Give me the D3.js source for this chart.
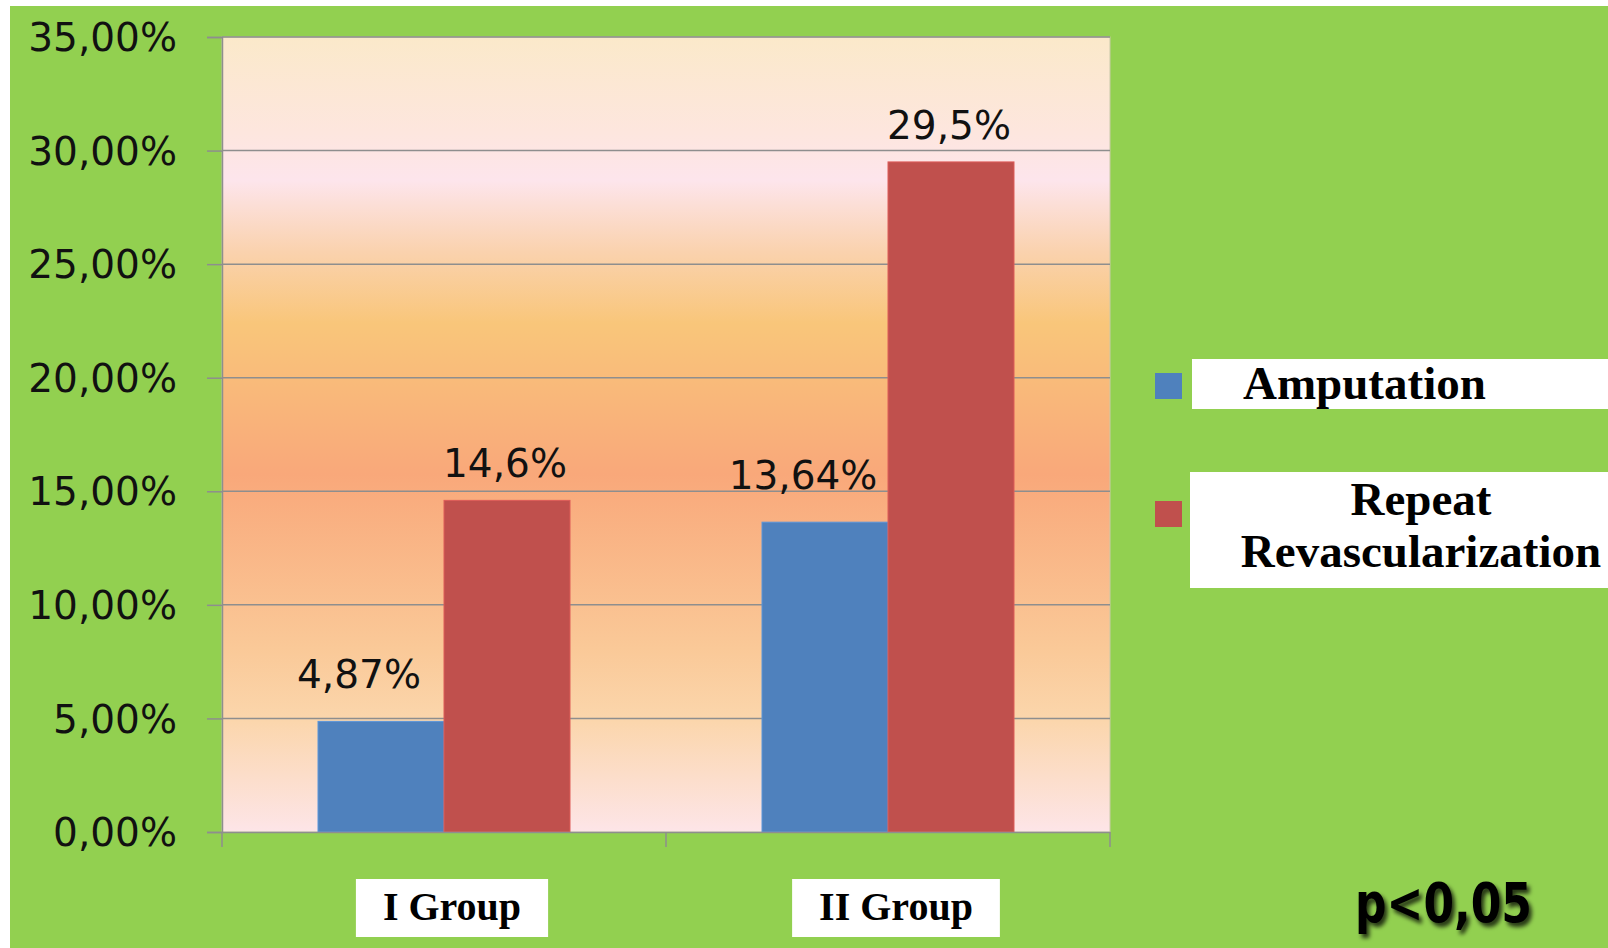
<!DOCTYPE html>
<html>
<head>
    <meta charset="utf-8" />
    <title>Amputation / Repeat Revascularization</title>
    <script src="https://cdn.jsdelivr.net/npm/d3@7/dist/d3.min.js" type="text/javascript"></script>
    <style>
        body { margin: 0; background: #ffffff; }
        svg { display: block; }
        .tick text { font-family: "DejaVu Sans", Verdana, sans-serif; }
    </style>
</head>
<body>
<div id="chart"></div>
<script type="text/javascript">
// data (percent)
var groups = ['I Group', 'II Group'];
var seriesNames = ['Amputation', 'Repeat Revascularization'];
var amputation = [4.87, 13.64];
var repeatRevasc = [14.6, 29.5];
var yTicks = [0, 5, 10, 15, 20, 25, 30, 35];
var pNote = 'p<0,05';

var width = 1608, height = 948;
var plot = { left: 222, right: 1110, top: 37, bottom: 832 };
var colors = ['#4F81BD', '#C0504D'];
// where Excel put the value labels relative to the bar top
var labelShift = [{ dx: -22, dy: -33 }, { dx: -2, dy: -23 }];

var svg = d3.select('#chart').append('svg')
    .attr('width', width)
    .attr('height', height);

var defs = svg.append('defs');
var grad = defs.append('linearGradient')
    .attr('id', 'plotBg')
    .attr('x1', 0).attr('y1', 0).attr('x2', 0).attr('y2', 1);
[[0, '#FBE9CA'], [0.12, '#FDE6DE'], [0.18, '#FDE5EC'], [0.27, '#FAD2AE'],
 [0.36, '#F9C67A'], [0.55, '#F9A87A'], [0.77, '#FAC998'], [0.86, '#FBD6AC'],
 [1, '#FDE5E8']].forEach(function (s) {
    grad.append('stop').attr('offset', s[0]).attr('stop-color', s[1]);
});
var shadow = defs.append('filter').attr('id', 'pShadow')
    .attr('x', '-20%').attr('y', '-20%').attr('width', '140%').attr('height', '150%');
shadow.append('feDropShadow')
    .attr('dx', 3).attr('dy', 4).attr('stdDeviation', 2)
    .attr('flood-color', '#000').attr('flood-opacity', 0.75);

// green slide background
svg.append('rect')
    .attr('x', 10).attr('y', 6)
    .attr('width', width - 10).attr('height', height - 6)
    .attr('fill', '#92D050');

var y = d3.scaleLinear().domain([0, 35]).range([plot.bottom, plot.top]);
var x0 = d3.scaleBand().domain(groups).range([plot.left, plot.right]).padding(0);
var x1 = d3.scaleBand().domain(seriesNames).range([-126, 126]).padding(0);

svg.append('rect')
    .attr('x', plot.left).attr('y', plot.top)
    .attr('width', plot.right - plot.left).attr('height', plot.bottom - plot.top)
    .attr('fill', 'url(#plotBg)')
    .attr('stroke', '#C9C9A8').attr('stroke-width', 1);

function fmtTick(v) { return d3.format('.2f')(v).replace('.', ',') + '%'; }
function fmtLabel(v) { return String(v).replace('.', ',') + '%'; }

// gridlines
svg.append('g').selectAll('line').data(yTicks.slice(1)).enter().append('line')
    .attr('x1', plot.left).attr('x2', plot.right)
    .attr('y1', function (d) { return y(d); })
    .attr('y2', function (d) { return y(d); })
    .attr('stroke', '#8E8E8E').attr('stroke-width', 1.5);

// y axis
var yAxis = svg.append('g')
    .attr('transform', 'translate(' + plot.left + ',0)')
    .call(d3.axisLeft(y).tickValues(yTicks).tickFormat(fmtTick).tickSize(15).tickPadding(30));
yAxis.select('.domain').attr('stroke', '#8E8E8E').attr('stroke-width', 1.5);
yAxis.selectAll('.tick line').attr('stroke', '#8E8E8E').attr('stroke-width', 1.5);
yAxis.selectAll('.tick text')
    .attr('font-size', 39).attr('fill', '#111').attr('dy', '0.35em');

// bars
var rows = groups.map(function (g, i) {
    return { group: g, values: [amputation[i], repeatRevasc[i]] };
});
var gBars = svg.append('g').selectAll('g').data(rows).enter().append('g')
    .attr('transform', function (d) { return 'translate(' + (x0(d.group) + x0.bandwidth() / 2) + ',0)'; });

gBars.selectAll('rect').data(function (d) {
    return d.values.map(function (v, k) { return { k: k, v: v }; });
}).enter().append('rect')
    .attr('x', function (d) { return x1(seriesNames[d.k]); })
    .attr('width', x1.bandwidth())
    .attr('y', function (d) { return y(d.v); })
    .attr('height', function (d) { return y(0) - y(d.v); })
    .attr('fill', function (d) { return colors[d.k]; })
    .attr('stroke', function (d) { return d3.color(colors[d.k]).brighter(0.4); })
    .attr('stroke-width', 1);

gBars.selectAll('text').data(function (d) {
    return d.values.map(function (v, k) { return { k: k, v: v }; });
}).enter().append('text')
    .attr('x', function (d) { return x1(seriesNames[d.k]) + x1.bandwidth() / 2 + labelShift[d.k].dx; })
    .attr('y', function (d) { return y(d.v) + labelShift[d.k].dy; })
    .attr('text-anchor', 'middle')
    .attr('font-family', '"DejaVu Sans", Verdana, sans-serif')
    .attr('font-size', 39)
    .attr('fill', '#111')
    .text(function (d) { return fmtLabel(d.v); });

// x axis line + ticks
var xAxis = svg.append('g')
    .attr('transform', 'translate(0,' + plot.bottom + ')')
    .call(d3.axisBottom(x0).tickSize(0).tickFormat(''));
xAxis.select('.domain').attr('stroke', '#8E8E8E').attr('stroke-width', 1.5);
var xEdges = [plot.left].concat(groups.map(function (g) { return x0(g) + x0.bandwidth(); }));
xAxis.selectAll('.edge').data(xEdges).enter().append('line')
    .attr('x1', function (d) { return d; }).attr('x2', function (d) { return d; })
    .attr('y1', 0).attr('y2', 15)
    .attr('stroke', '#8E8E8E').attr('stroke-width', 1.5);

// category labels in white boxes
var cat = svg.append('g').selectAll('g').data(groups).enter().append('g')
    .attr('transform', function (d) { return 'translate(' + (x0(d) + x0.bandwidth() / 2 + 8) + ',0)'; });
cat.append('rect').attr('fill', '#fff');
cat.append('text')
    .attr('x', 0).attr('y', 920)
    .attr('text-anchor', 'middle')
    .attr('font-family', '"Liberation Serif", "Times New Roman", serif')
    .attr('font-weight', 'bold')
    .attr('font-size', 40)
    .attr('fill', '#000')
    .text(function (d) { return d; });
cat.each(function () {
    var g = d3.select(this);
    var bb = g.select('text').node().getBBox();
    g.select('rect')
        .attr('x', -bb.width / 2 - 27).attr('width', bb.width + 54)
        .attr('y', 879).attr('height', 58);
});

// legend
var legend = svg.append('g');
legend.append('rect').attr('x', 1192).attr('y', 359).attr('width', 460).attr('height', 50).attr('fill', '#fff');
legend.append('rect').attr('x', 1190).attr('y', 472).attr('width', 462).attr('height', 116).attr('fill', '#fff');
legend.append('rect').attr('x', 1155).attr('y', 373).attr('width', 27).attr('height', 26).attr('fill', colors[0]);
legend.append('rect').attr('x', 1155).attr('y', 501).attr('width', 27).attr('height', 26).attr('fill', colors[1]);
var legFont = '"Liberation Serif", "Times New Roman", serif';
legend.append('text')
    .attr('x', 1243).attr('y', 399)
    .attr('font-family', legFont).attr('font-weight', 'bold').attr('font-size', 47)
    .text(seriesNames[0]);
var words = seriesNames[1].split(' ');
legend.selectAll('.rr').data(words).enter().append('text')
    .attr('x', 1421)
    .attr('y', function (d, i) { return 515 + i * 52; })
    .attr('text-anchor', 'middle')
    .attr('font-family', legFont).attr('font-weight', 'bold').attr('font-size', 47)
    .text(function (d) { return d; });

// significance note
svg.append('text')
    .attr('x', 1355).attr('y', 922)
    .attr('font-family', '"DejaVu Sans", Verdana, sans-serif')
    .attr('font-weight', 'bold')
    .attr('font-size', 56)
    .attr('textLength', 177)
    .attr('lengthAdjust', 'spacingAndGlyphs')
    .attr('fill', '#000')
    .attr('filter', 'url(#pShadow)')
    .text(pNote);
</script>
</body>
</html>
